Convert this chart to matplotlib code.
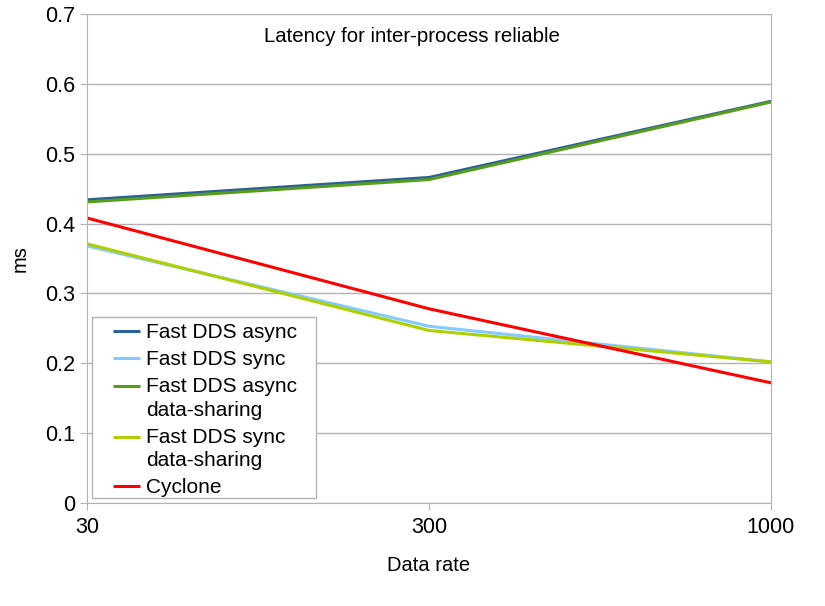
import matplotlib
matplotlib.use("Agg")
import matplotlib.pyplot as plt
import numpy as np
from matplotlib.patches import Rectangle

categories = ["30", "300", "1000"]
fast_async = [0.434, 0.466, 0.575]
fast_sync = [0.368, 0.253, 0.202]
fast_async_ds = [0.431, 0.463, 0.574]
fast_sync_ds = [0.371, 0.247, 0.202]
cyclone = [0.408, 0.278, 0.172]

series = [
    ("Fast DDS async", fast_async, "#2a6099"),
    ("Fast DDS sync", fast_sync, "#83caff"),
    ("Fast DDS async\ndata-sharing", fast_async_ds, "#579d1c"),
    ("Fast DDS sync\ndata-sharing", fast_sync_ds, "#aecf00"),
    ("Cyclone", cyclone, "#ff0000"),
]

plt.rcParams['font.family'] = ['Liberation Sans', 'DejaVu Sans']

fig = plt.figure(figsize=(8.25, 6.06), dpi=100)
ax = fig.add_axes([87/825, 1-503/606, (771-87)/825, (503-14)/606])

x = list(range(len(categories)))
for label, vals, col in series:
    ax.plot(x, vals, color=col, lw=2.2, label=label, solid_capstyle='butt')

ax.set_xlim(0, len(categories)-1)
ax.set_ylim(0, 0.7)
ax.set_xticks(x)
ax.set_xticklabels(categories)
ax.set_yticks([i/10 for i in range(8)])
ax.set_yticklabels(["0"] + [f"{i/10:.1f}" for i in range(1, 8)])
ax.yaxis.grid(True, color="#b3b3b3", lw=1)
ax.set_axisbelow(True)
for s in ["left", "bottom", "right"]:
    ax.spines[s].set_color("#b3b3b3")
ax.spines["top"].set_visible(False)
ax.tick_params(axis='both', colors="#b3b3b3", labelcolor="black", labelsize=15.5, length=5, direction='out')
ax.tick_params(axis='x', pad=5)

ax.text(0.475, 0.955, "Latency for inter-process reliable", transform=ax.transAxes,
        ha="center", va="center", fontsize=14.7)
ax.set_xlabel("Data rate", fontsize=14.5, labelpad=13)
ax.set_ylabel("ms", fontsize=14.5, labelpad=11)

# legend box
ax.add_patch(Rectangle(((92-87)/684, (503-498)/489), 224/684, 181/489,
                       transform=ax.transAxes, facecolor="white",
                       edgecolor="#b3b3b3", lw=1, zorder=4))
leg = ax.legend(loc="upper left", bbox_to_anchor=((113-87)/684, (503-323)/489),
                fontsize=15, frameon=False,
                handlelength=1.3, handletextpad=0.3, labelspacing=0.38,
                borderpad=0, borderaxespad=0)
leg.set_zorder(5)
for t, h in zip(leg.get_texts(), leg.legend_handles):
    t.set_linespacing(1.32)
    if "\n" in t.get_text():
        yd = np.asarray(h.get_ydata(), dtype=float)
        h.set_ydata(yd + 8.6)

fig.savefig("out.png", dpi=100)
